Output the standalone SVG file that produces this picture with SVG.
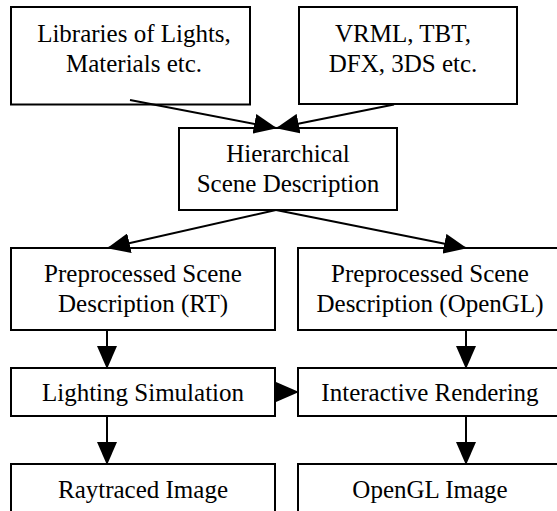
<svg xmlns="http://www.w3.org/2000/svg" width="557" height="511" viewBox="0 0 557 511">
<style>
.box{fill:#fff;stroke:#000;stroke-width:2}
.t{font-family:"Liberation Serif","Times New Roman",serif;font-size:25px;fill:#000;text-anchor:middle}
.c{stroke:#000;stroke-width:2;fill:none;marker-end:url(#ah)}
</style>
<defs>
<marker id="ah" viewBox="0 0 23 20" refX="22" refY="10" markerWidth="23" markerHeight="20" markerUnits="userSpaceOnUse" orient="auto">
<path d="M0,0 L23,10 L0,20 z" fill="#000"/>
</marker>
</defs>
<rect width="557" height="511" fill="#fff"/>
<g id="n1"><rect class="box" x="11" y="7" width="239" height="97.5"/><text class="t" x="134" y="42">Libraries of Lights,</text><text class="t" x="134" y="72">Materials etc.</text></g>
<g id="n2"><rect class="box" x="299" y="7" width="218" height="97"/><text class="t" x="403" y="42">VRML, TBT,</text><text class="t" x="403" y="72">DFX, 3DS etc.</text></g>
<g id="n3"><rect class="box" x="179" y="128" width="218" height="82"/><text class="t" x="288" y="162">Hierarchical</text><text class="t" x="288" y="192">Scene Description</text></g>
<g id="n4"><rect class="box" x="11" y="248" width="264" height="82"/><text class="t" x="143" y="282">Preprocessed Scene</text><text class="t" x="143" y="312">Description (RT)</text></g>
<g id="n5"><rect class="box" x="298" y="248" width="264" height="82"/><text class="t" x="430" y="282">Preprocessed Scene</text><text class="t" x="430" y="312">Description (OpenGL)</text></g>
<g id="n6"><rect class="box" x="11" y="368" width="264" height="48"/><text class="t" x="143" y="401">Lighting Simulation</text></g>
<g id="n7"><rect class="box" x="298" y="368" width="264" height="48"/><text class="t" x="430" y="401">Interactive Rendering</text></g>
<g id="n8"><rect class="box" x="11" y="464" width="264" height="52"/><text class="t" x="143" y="498">Raytraced Image</text></g>
<g id="n9"><rect class="box" x="298" y="464" width="264" height="52"/><text class="t" x="430" y="498">OpenGL Image</text></g>
<g id="connectors">
<line class="c" x1="130" y1="100" x2="276" y2="128"/>
<line class="c" x1="394" y1="104.5" x2="277" y2="128"/>
<line class="c" x1="276" y1="210" x2="108" y2="248"/>
<line class="c" x1="276" y1="210" x2="466" y2="248"/>
<line class="c" x1="107" y1="330" x2="107" y2="368"/>
<line class="c" x1="466" y1="330" x2="466" y2="368"/>
<line class="c" x1="275" y1="392" x2="298" y2="392"/>
<line class="c" x1="107" y1="416" x2="107" y2="464"/>
<line class="c" x1="466" y1="416" x2="466" y2="464"/>
</g>
</svg>
